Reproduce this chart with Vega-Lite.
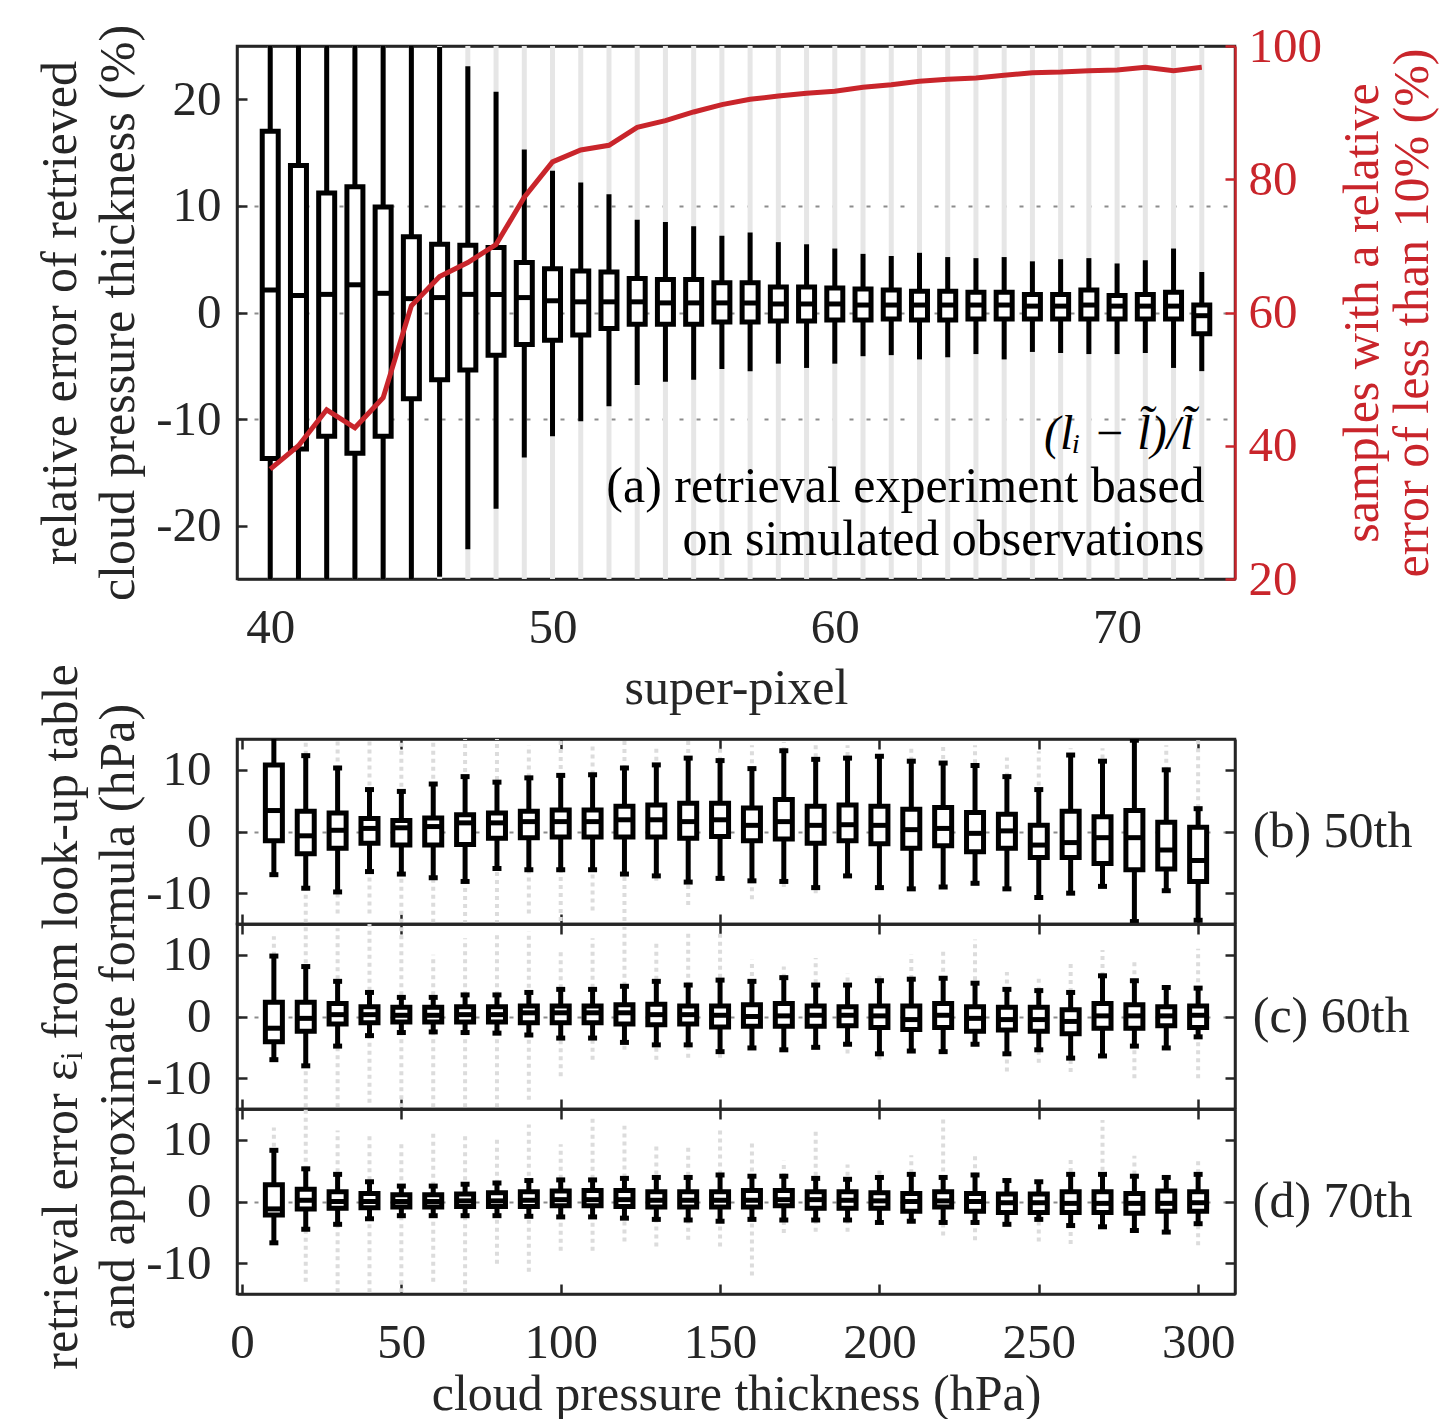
{
  "$schema": "https://vega.github.io/schema/vega-lite/v6.json",
  "padding": {"left": 34, "top": 20, "right": 5, "bottom": 0},
  "background": "white",
  "config": {
    "font": "Liberation Serif",
    "view": {"stroke": "#262626", "strokeWidth": 2.5},
    "axis": {
      "labelFont": "Liberation Serif", "titleFont": "Liberation Serif",
      "labelFontSize": 49, "titleFontSize": 50, "titleFontWeight": "normal",
      "labelColor": "#262626", "titleColor": "#262626",
      "domainColor": "#262626", "domainWidth": 2.5,
      "tickColor": "#262626", "tickWidth": 2.5, "tickSize": -10,
      "grid": false, "labelFlush": false, "labelOverlap": false,
      "labelExpr": "replace(datum.label, '−', '-')"
    }
  },
  "datasets": {
    "top": [
      {"sp":40,"lo":-30,"q1":-13.7,"med":2.1,"q3":17.0,"hi":30,"gmin":-30,"gmax":30,"pct":36.5},
      {"sp":41,"lo":-30,"q1":-12.8,"med":1.6,"q3":13.8,"hi":30,"gmin":-30,"gmax":30,"pct":40.0},
      {"sp":42,"lo":-30,"q1":-11.6,"med":1.7,"q3":11.2,"hi":30,"gmin":-30,"gmax":30,"pct":45.4},
      {"sp":43,"lo":-30,"q1":-13.2,"med":2.6,"q3":11.8,"hi":30,"gmin":-30,"gmax":30,"pct":42.7},
      {"sp":44,"lo":-30,"q1":-11.6,"med":1.8,"q3":9.9,"hi":30,"gmin":-30,"gmax":30,"pct":47.2},
      {"sp":45,"lo":-30,"q1":-8.1,"med":1.3,"q3":7.1,"hi":30,"gmin":-30,"gmax":30,"pct":61.0},
      {"sp":46,"lo":-24.8,"q1":-6.3,"med":1.4,"q3":6.4,"hi":24.9,"gmin":-30,"gmax":30,"pct":65.4},
      {"sp":47,"lo":-22.2,"q1":-5.4,"med":1.7,"q3":6.3,"hi":23.1,"gmin":-30,"gmax":30,"pct":67.5},
      {"sp":48,"lo":-18.4,"q1":-4.0,"med":1.7,"q3":6.1,"hi":20.7,"gmin":-30,"gmax":30,"pct":70.2},
      {"sp":49,"lo":-13.6,"q1":-3.0,"med":1.4,"q3":4.7,"hi":15.3,"gmin":-30,"gmax":30,"pct":77.3},
      {"sp":50,"lo":-11.6,"q1":-2.6,"med":1.1,"q3":4.1,"hi":13.3,"gmin":-30,"gmax":30,"pct":82.6},
      {"sp":51,"lo":-10.2,"q1":-2.1,"med":1.0,"q3":3.9,"hi":12.2,"gmin":-30,"gmax":30,"pct":84.4},
      {"sp":52,"lo":-8.8,"q1":-1.5,"med":1.0,"q3":3.8,"hi":11.1,"gmin":-30,"gmax":30,"pct":85.1},
      {"sp":53,"lo":-6.8,"q1":-1.1,"med":1.0,"q3":3.2,"hi":8.7,"gmin":-30,"gmax":30,"pct":87.8},
      {"sp":54,"lo":-6.5,"q1":-1.1,"med":0.9,"q3":3.1,"hi":8.5,"gmin":-30,"gmax":30,"pct":88.8},
      {"sp":55,"lo":-6.3,"q1":-1.1,"med":0.9,"q3":3.1,"hi":8.1,"gmin":-30,"gmax":30,"pct":90.1},
      {"sp":56,"lo":-5.3,"q1":-0.9,"med":0.9,"q3":2.8,"hi":7.2,"gmin":-30,"gmax":30,"pct":91.2},
      {"sp":57,"lo":-5.5,"q1":-0.9,"med":0.9,"q3":2.8,"hi":7.5,"gmin":-30,"gmax":30,"pct":92.0},
      {"sp":58,"lo":-4.8,"q1":-0.8,"med":0.8,"q3":2.4,"hi":6.6,"gmin":-30,"gmax":30,"pct":92.5},
      {"sp":59,"lo":-5.2,"q1":-0.8,"med":0.8,"q3":2.4,"hi":6.4,"gmin":-30,"gmax":30,"pct":92.9},
      {"sp":60,"lo":-4.8,"q1":-0.7,"med":0.8,"q3":2.3,"hi":6.0,"gmin":-30,"gmax":30,"pct":93.2},
      {"sp":61,"lo":-4.1,"q1":-0.7,"med":0.7,"q3":2.2,"hi":5.5,"gmin":-30,"gmax":30,"pct":93.8},
      {"sp":62,"lo":-4.0,"q1":-0.6,"med":0.7,"q3":2.1,"hi":5.3,"gmin":-30,"gmax":30,"pct":94.2},
      {"sp":63,"lo":-4.4,"q1":-0.7,"med":0.7,"q3":2.0,"hi":5.6,"gmin":-30,"gmax":30,"pct":94.7},
      {"sp":64,"lo":-4.2,"q1":-0.7,"med":0.7,"q3":2.0,"hi":5.2,"gmin":-30,"gmax":30,"pct":95.0},
      {"sp":65,"lo":-3.9,"q1":-0.6,"med":0.7,"q3":1.9,"hi":5.1,"gmin":-30,"gmax":30,"pct":95.2},
      {"sp":66,"lo":-4.4,"q1":-0.6,"med":0.7,"q3":1.9,"hi":5.2,"gmin":-30,"gmax":30,"pct":95.6},
      {"sp":67,"lo":-3.7,"q1":-0.6,"med":0.6,"q3":1.7,"hi":4.8,"gmin":-30,"gmax":30,"pct":96.0},
      {"sp":68,"lo":-3.8,"q1":-0.6,"med":0.6,"q3":1.7,"hi":5.0,"gmin":-30,"gmax":30,"pct":96.1},
      {"sp":69,"lo":-3.9,"q1":-0.6,"med":0.7,"q3":2.1,"hi":5.1,"gmin":-30,"gmax":30,"pct":96.3},
      {"sp":70,"lo":-3.9,"q1":-0.6,"med":0.6,"q3":1.6,"hi":4.6,"gmin":-30,"gmax":30,"pct":96.4},
      {"sp":71,"lo":-3.8,"q1":-0.6,"med":0.6,"q3":1.7,"hi":4.9,"gmin":-30,"gmax":30,"pct":96.8},
      {"sp":72,"lo":-5.2,"q1":-0.6,"med":0.6,"q3":1.9,"hi":6.0,"gmin":-30,"gmax":30,"pct":96.3},
      {"sp":73,"lo":-5.5,"q1":-2.0,"med":-0.3,"q3":0.7,"hi":3.8,"gmin":-30,"gmax":30,"pct":96.8}
    ],
    "ann": [
      {"tx":73.1,"ty":-16.4,"t":"(a) retrieval experiment based"},
      {"tx":73.1,"ty":-21.3,"t":"on simulated observations"}
    ],
    "math": [
      {"tx":72.7,"ty":-11.5,"t":"(lᵢ − l̃)/l̃"}
    ],
    "bot": [
      {"p":"b","x":10,"lo":-7.0,"q1":-1.5,"med":3.4,"q3":10.8,"hi":20,"gmin":-7,"gmax":20},
      {"p":"b","x":20,"lo":-9.2,"q1":-3.6,"med":-0.7,"q3":3.3,"hi":12.3,"gmin":-20,"gmax":20},
      {"p":"b","x":30,"lo":-9.8,"q1":-2.7,"med":0.2,"q3":3.0,"hi":10.3,"gmin":-13.3,"gmax":20},
      {"p":"b","x":40,"lo":-6.5,"q1":-1.9,"med":0.5,"q3":2.1,"hi":6.8,"gmin":-13.3,"gmax":20},
      {"p":"b","x":50,"lo":-6.9,"q1":-2.2,"med":0.6,"q3":1.8,"hi":6.5,"gmin":-20,"gmax":20},
      {"p":"b","x":60,"lo":-7.5,"q1":-2.2,"med":0.8,"q3":2.2,"hi":7.7,"gmin":-20,"gmax":20},
      {"p":"b","x":70,"lo":-8.1,"q1":-2.1,"med":1.4,"q3":2.7,"hi":8.9,"gmin":-15,"gmax":20},
      {"p":"b","x":80,"lo":-6.0,"q1":-1.1,"med":1.4,"q3":3.0,"hi":8.0,"gmin":-15,"gmax":20},
      {"p":"b","x":90,"lo":-6.2,"q1":-1.0,"med":1.6,"q3":3.3,"hi":8.7,"gmin":-13.3,"gmax":14},
      {"p":"b","x":100,"lo":-6.2,"q1":-0.9,"med":1.6,"q3":3.5,"hi":9.1,"gmin":-14.5,"gmax":20},
      {"p":"b","x":110,"lo":-6.2,"q1":-0.9,"med":1.6,"q3":3.5,"hi":9.2,"gmin":-12.8,"gmax":14},
      {"p":"b","x":120,"lo":-6.9,"q1":-0.9,"med":1.9,"q3":4.1,"hi":10.3,"gmin":-14.5,"gmax":20},
      {"p":"b","x":130,"lo":-7.2,"q1":-0.9,"med":1.9,"q3":4.3,"hi":10.8,"gmin":-8,"gmax":14},
      {"p":"b","x":140,"lo":-8.2,"q1":-1.1,"med":1.6,"q3":4.6,"hi":11.9,"gmin":-11.9,"gmax":15},
      {"p":"b","x":150,"lo":-7.6,"q1":-0.8,"med":1.9,"q3":4.6,"hi":11.5,"gmin":-8,"gmax":14},
      {"p":"b","x":160,"lo":-8.0,"q1":-1.5,"med":1.0,"q3":3.8,"hi":10.2,"gmin":-11,"gmax":14},
      {"p":"b","x":170,"lo":-8.1,"q1":-1.2,"med":1.6,"q3":5.2,"hi":13.1,"gmin":-9,"gmax":14.5},
      {"p":"b","x":180,"lo":-9.1,"q1":-1.9,"med":1.0,"q3":4.1,"hi":11.7,"gmin":-10,"gmax":14},
      {"p":"b","x":190,"lo":-7.2,"q1":-1.5,"med":1.1,"q3":4.3,"hi":11.9,"gmin":-7.2,"gmax":14},
      {"p":"b","x":200,"lo":-9.1,"q1":-2.0,"med":1.0,"q3":4.1,"hi":12.2,"gmin":-9.1,"gmax":12.2},
      {"p":"b","x":210,"lo":-9.3,"q1":-2.7,"med":0.3,"q3":3.6,"hi":11.4,"gmin":-9.3,"gmax":14},
      {"p":"b","x":220,"lo":-9.0,"q1":-2.3,"med":0.5,"q3":3.9,"hi":11.1,"gmin":-9,"gmax":14},
      {"p":"b","x":230,"lo":-8.4,"q1":-3.3,"med":-0.3,"q3":3.1,"hi":10.7,"gmin":-8.4,"gmax":14},
      {"p":"b","x":240,"lo":-9.3,"q1":-2.7,"med":0.1,"q3":2.8,"hi":8.9,"gmin":-9.3,"gmax":12},
      {"p":"b","x":250,"lo":-10.7,"q1":-4.2,"med":-2.2,"q3":1.0,"hi":6.8,"gmin":-10.7,"gmax":13},
      {"p":"b","x":260,"lo":-10.0,"q1":-4.2,"med":-1.8,"q3":3.3,"hi":12.4,"gmin":-10,"gmax":13.5},
      {"p":"b","x":270,"lo":-8.9,"q1":-5.2,"med":-1.0,"q3":2.4,"hi":11.4,"gmin":-8.9,"gmax":13.5},
      {"p":"b","x":280,"lo":-14.6,"q1":-6.2,"med":-1.0,"q3":3.4,"hi":14.8,"gmin":-14.6,"gmax":14.8},
      {"p":"b","x":290,"lo":-9.6,"q1":-6.1,"med":-3.0,"q3":1.5,"hi":10.0,"gmin":-9.6,"gmax":14},
      {"p":"b","x":300,"lo":-14.4,"q1":-8.1,"med":-4.7,"q3":0.7,"hi":3.7,"gmin":-14.4,"gmax":15},
      {"p":"c","x":10,"lo":-7.0,"q1":-4.1,"med":-1.9,"q3":2.3,"hi":9.8,"gmin":-7,"gmax":13},
      {"p":"c","x":20,"lo":-8.0,"q1":-2.4,"med":-0.3,"q3":2.3,"hi":8.1,"gmin":-16,"gmax":16},
      {"p":"c","x":30,"lo":-4.8,"q1":-1.2,"med":0.3,"q3":2.1,"hi":5.7,"gmin":-16,"gmax":14.3},
      {"p":"c","x":40,"lo":-3.1,"q1":-1.0,"med":0.3,"q3":1.6,"hi":3.9,"gmin":-14,"gmax":16},
      {"p":"c","x":50,"lo":-2.6,"q1":-0.9,"med":0.2,"q3":1.5,"hi":3.1,"gmin":-16,"gmax":16},
      {"p":"c","x":60,"lo":-2.5,"q1":-0.9,"med":0.2,"q3":1.5,"hi":3.1,"gmin":-16,"gmax":10},
      {"p":"c","x":70,"lo":-2.6,"q1":-0.9,"med":0.3,"q3":1.6,"hi":3.5,"gmin":-16,"gmax":12.7},
      {"p":"c","x":80,"lo":-2.7,"q1":-0.9,"med":0.3,"q3":1.6,"hi":3.5,"gmin":-16,"gmax":13.2},
      {"p":"c","x":90,"lo":-3.0,"q1":-1.0,"med":0.6,"q3":1.7,"hi":3.9,"gmin":-13.5,"gmax":13.8},
      {"p":"c","x":100,"lo":-3.5,"q1":-1.0,"med":0.6,"q3":1.7,"hi":4.4,"gmin":-9.7,"gmax":11},
      {"p":"c","x":110,"lo":-3.5,"q1":-1.0,"med":0.6,"q3":1.7,"hi":4.4,"gmin":-7,"gmax":12.7},
      {"p":"c","x":120,"lo":-4.2,"q1":-1.2,"med":0.6,"q3":1.9,"hi":4.9,"gmin":-5.4,"gmax":14.5},
      {"p":"c","x":130,"lo":-4.6,"q1":-1.35,"med":0.3,"q3":2.0,"hi":5.7,"gmin":-7,"gmax":12.4},
      {"p":"c","x":140,"lo":-4.6,"q1":-1.2,"med":0.3,"q3":1.7,"hi":5.1,"gmin":-6.7,"gmax":13.5},
      {"p":"c","x":150,"lo":-5.7,"q1":-1.7,"med":0.2,"q3":1.7,"hi":5.9,"gmin":-6.7,"gmax":13.8},
      {"p":"c","x":160,"lo":-5.1,"q1":-1.6,"med":0.0,"q3":1.9,"hi":5.7,"gmin":-5.1,"gmax":9.2},
      {"p":"c","x":170,"lo":-5.4,"q1":-1.6,"med":0.1,"q3":2.1,"hi":6.3,"gmin":-5.4,"gmax":8.1},
      {"p":"c","x":180,"lo":-5.0,"q1":-1.6,"med":0.2,"q3":1.7,"hi":5.1,"gmin":-5.0,"gmax":9.5},
      {"p":"c","x":190,"lo":-4.5,"q1":-1.5,"med":0.2,"q3":1.6,"hi":5.1,"gmin":-6,"gmax":7},
      {"p":"c","x":200,"lo":-6.05,"q1":-1.8,"med":0.1,"q3":1.7,"hi":5.8,"gmin":-7,"gmax":7},
      {"p":"c","x":210,"lo":-5.6,"q1":-2.1,"med":-0.5,"q3":1.7,"hi":6.05,"gmin":-5.6,"gmax":10},
      {"p":"c","x":220,"lo":-5.7,"q1":-1.8,"med":0.2,"q3":2.1,"hi":6.2,"gmin":-5.7,"gmax":11},
      {"p":"c","x":230,"lo":-4.5,"q1":-2.4,"med":-0.3,"q3":1.6,"hi":5.4,"gmin":-4.5,"gmax":12.5},
      {"p":"c","x":240,"lo":-6.05,"q1":-2.2,"med":-0.5,"q3":1.5,"hi":4.4,"gmin":-8.9,"gmax":7.2},
      {"p":"c","x":250,"lo":-5.4,"q1":-2.4,"med":-0.5,"q3":1.5,"hi":4.2,"gmin":-7.5,"gmax":6.2},
      {"p":"c","x":260,"lo":-6.75,"q1":-2.8,"med":-0.8,"q3":1.1,"hi":3.9,"gmin":-9,"gmax":8.8},
      {"p":"c","x":270,"lo":-6.4,"q1":-1.9,"med":0.1,"q3":2.1,"hi":6.6,"gmin":-6.4,"gmax":10.8},
      {"p":"c","x":280,"lo":-4.8,"q1":-1.9,"med":0.1,"q3":1.9,"hi":5.8,"gmin":-10,"gmax":9.2},
      {"p":"c","x":290,"lo":-5.1,"q1":-1.5,"med":0.1,"q3":1.6,"hi":4.7,"gmin":-5.1,"gmax":4.7},
      {"p":"c","x":300,"lo":-3.3,"q1":-1.8,"med":0.2,"q3":1.7,"hi":4.6,"gmin":-10,"gmax":11},
      {"p":"d","x":10,"lo":-6.7,"q1":-2.2,"med":-1.2,"q3":2.7,"hi":8.3,"gmin":-6.7,"gmax":12},
      {"p":"d","x":20,"lo":-4.5,"q1":-1.2,"med":0.2,"q3":2.0,"hi":5.3,"gmin":-13,"gmax":15},
      {"p":"d","x":30,"lo":-3.7,"q1":-1.1,"med":0.0,"q3":1.6,"hi":4.4,"gmin":-14.7,"gmax":11.5},
      {"p":"d","x":40,"lo":-2.8,"q1":-1.0,"med":0.0,"q3":1.3,"hi":3.2,"gmin":-14.7,"gmax":10.9},
      {"p":"d","x":50,"lo":-2.3,"q1":-0.9,"med":0.0,"q3":1.1,"hi":2.5,"gmin":-14.7,"gmax":9.6},
      {"p":"d","x":60,"lo":-2.3,"q1":-0.9,"med":0.0,"q3":1.1,"hi":2.5,"gmin":-13,"gmax":11.2},
      {"p":"d","x":70,"lo":-2.3,"q1":-0.8,"med":0.1,"q3":1.2,"hi":2.8,"gmin":-14.7,"gmax":11.2},
      {"p":"d","x":80,"lo":-2.3,"q1":-0.8,"med":0.1,"q3":1.4,"hi":3.0,"gmin":-10.1,"gmax":10.4},
      {"p":"d","x":90,"lo":-2.4,"q1":-0.8,"med":0.2,"q3":1.6,"hi":3.4,"gmin":-11.4,"gmax":12.5},
      {"p":"d","x":100,"lo":-2.5,"q1":-0.7,"med":0.3,"q3":1.7,"hi":3.5,"gmin":-8,"gmax":9.3},
      {"p":"d","x":110,"lo":-2.5,"q1":-0.7,"med":0.3,"q3":1.8,"hi":3.5,"gmin":-8,"gmax":13.9},
      {"p":"d","x":120,"lo":-2.7,"q1":-0.8,"med":0.3,"q3":1.8,"hi":3.75,"gmin":-6.5,"gmax":12.3},
      {"p":"d","x":130,"lo":-2.9,"q1":-0.9,"med":0.2,"q3":1.6,"hi":3.9,"gmin":-7.3,"gmax":9},
      {"p":"d","x":140,"lo":-3.0,"q1":-0.9,"med":0.2,"q3":1.6,"hi":3.9,"gmin":-6.2,"gmax":8.7},
      {"p":"d","x":150,"lo":-3.2,"q1":-0.9,"med":0.2,"q3":1.6,"hi":4.3,"gmin":-7.3,"gmax":11.8},
      {"p":"d","x":160,"lo":-2.9,"q1":-0.9,"med":0.2,"q3":1.8,"hi":4.1,"gmin":-12,"gmax":10},
      {"p":"d","x":170,"lo":-3.0,"q1":-0.7,"med":0.3,"q3":1.8,"hi":4.1,"gmin":-5.1,"gmax":6.6},
      {"p":"d","x":180,"lo":-3.0,"q1":-1.1,"med":0.3,"q3":1.6,"hi":3.75,"gmin":-4.9,"gmax":11.7},
      {"p":"d","x":190,"lo":-3.0,"q1":-1.1,"med":0.2,"q3":1.6,"hi":3.6,"gmin":-4.9,"gmax":6},
      {"p":"d","x":200,"lo":-3.4,"q1":-1.1,"med":0.1,"q3":1.4,"hi":3.9,"gmin":-3.4,"gmax":5.5},
      {"p":"d","x":210,"lo":-3.2,"q1":-1.6,"med":0.0,"q3":1.3,"hi":4.4,"gmin":-3.2,"gmax":7.5},
      {"p":"d","x":220,"lo":-3.4,"q1":-0.9,"med":0.1,"q3":1.6,"hi":3.9,"gmin":-5.5,"gmax":13.5},
      {"p":"d","x":230,"lo":-3.4,"q1":-1.6,"med":0.0,"q3":1.3,"hi":4.3,"gmin":-6.3,"gmax":8},
      {"p":"d","x":240,"lo":-3.7,"q1":-1.8,"med":-0.2,"q3":1.2,"hi":3.4,"gmin":-3.7,"gmax":3.4},
      {"p":"d","x":250,"lo":-2.9,"q1":-1.8,"med":-0.2,"q3":1.2,"hi":3.2,"gmin":-6.5,"gmax":3.2},
      {"p":"d","x":260,"lo":-3.9,"q1":-1.8,"med":-0.3,"q3":1.6,"hi":4.4,"gmin":-6.9,"gmax":7.1},
      {"p":"d","x":270,"lo":-4.1,"q1":-1.8,"med":-0.3,"q3":1.6,"hi":4.4,"gmin":-4.1,"gmax":13.2},
      {"p":"d","x":280,"lo":-4.7,"q1":-1.9,"med":-0.3,"q3":1.3,"hi":4.1,"gmin":-4.7,"gmax":7.4},
      {"p":"d","x":290,"lo":-4.96,"q1":-1.6,"med":-0.3,"q3":1.7,"hi":3.9,"gmin":-4.96,"gmax":3.9},
      {"p":"d","x":300,"lo":-3.6,"q1":-1.6,"med":-0.2,"q3":1.6,"hi":4.4,"gmin":-7.1,"gmax":7.1}
    ]
  },
  "vconcat": [
    {
      "width": 998, "height": 533,
      "layer": [
        {
          "data": {"name": "top"},
          "mark": {"type": "rule", "color": "#e6e6e6", "strokeWidth": 5, "clip": true},
          "encoding": {
            "x": {"field": "sp", "type": "quantitative", "scale": {"domain": [39, 74], "nice": false, "zero": false},
                  "axis": {"orient": "bottom", "values": [40, 50, 60, 70], "title": "super-pixel", "labelPadding": 34, "titlePadding": 11}},
            "y": {"field": "gmin", "type": "quantitative", "scale": {"domain": [-25, 25], "nice": false, "zero": false},
                  "axis": {"orient": "left", "values": [-20, -10, 0, 10, 20], "labelPadding": 26,
                           "title": ["relative error of retrieved", "cloud pressure thickness (%)"], "titleLineHeight": 58, "titlePadding": 12,
                           "grid": true, "gridDash": [4, 13], "gridWidth": 2,
                           "gridColor": {"condition": {"test": "abs(datum.value) > 15", "value": "transparent"}, "value": "#8c8c8c"}}},
            "y2": {"field": "gmax"}
          }
        },
        {
          "data": {"name": "top"},
          "mark": {"type": "rule", "color": "black", "strokeWidth": 5, "clip": true},
          "encoding": {
            "x": {"field": "sp", "type": "quantitative", "axis": {"orient": "top", "values": [40, 50, 60, 70], "labels": false, "title": null}},
            "y": {"field": "lo", "type": "quantitative", "scale": {"domain": [-25, 25], "nice": false, "zero": false}, "axis": null},
            "y2": {"field": "hi"}
          }
        },
        {
          "data": {"name": "top"},
          "mark": {"type": "bar", "width": 16, "fill": "white", "stroke": "black", "strokeWidth": 5, "clip": true},
          "encoding": {
            "x": {"field": "sp", "type": "quantitative", "axis": null},
            "y": {"field": "q1", "type": "quantitative", "scale": {"domain": [-25, 25], "nice": false, "zero": false}, "axis": null},
            "y2": {"field": "q3"}
          }
        },
        {
          "data": {"name": "top"},
          "mark": {"type": "tick", "orient": "horizontal", "size": 16, "thickness": 5, "color": "black", "opacity": 1},
          "encoding": {
            "x": {"field": "sp", "type": "quantitative", "axis": null},
            "y": {"field": "med", "type": "quantitative", "scale": {"domain": [-25, 25], "nice": false, "zero": false}, "axis": null}
          }
        },
        {
          "data": {"name": "ann"},
          "mark": {"type": "text", "align": "right", "baseline": "middle", "fontSize": 50, "font": "Liberation Serif", "color": "black"},
          "encoding": {
            "x": {"field": "tx", "type": "quantitative", "axis": null},
            "y": {"field": "ty", "type": "quantitative", "scale": {"domain": [-25, 25], "nice": false, "zero": false}, "axis": null},
            "text": {"field": "t"}
          }
        },
        {
          "data": {"name": "math"},
          "mark": {"type": "text", "align": "right", "baseline": "middle", "fontSize": 48, "font": "Liberation Serif", "fontStyle": "italic", "color": "black"},
          "encoding": {
            "x": {"field": "tx", "type": "quantitative", "axis": null},
            "y": {"field": "ty", "type": "quantitative", "scale": {"domain": [-25, 25], "nice": false, "zero": false}, "axis": null},
            "text": {"field": "t"}
          }
        },
        {
          "data": {"name": "top"},
          "mark": {"type": "line", "color": "#c9252b", "strokeWidth": 5},
          "encoding": {
            "x": {"field": "sp", "type": "quantitative", "axis": null},
            "y": {"field": "pct", "type": "quantitative", "scale": {"domain": [20, 100], "nice": false, "zero": false},
                  "axis": {"orient": "right", "values": [20, 40, 60, 80, 100], "labelPadding": 23,
                           "labelColor": "#c9252b", "tickColor": "#c9252b", "domainColor": "#c9252b", "titleColor": "#c9252b",
                           "title": ["samples with a relative", "error of less than 10% (%)"], "titleAngle": 270, "titleBaseline": "top",
                           "titleLineHeight": 50, "titlePadding": -34}}
          }
        }
      ],
      "resolve": {"scale": {"y": "independent"}, "axis": {"y": "independent"}}
    },
    {
      "bounds": "flush",
      "spacing": 0,
      "vconcat": [
        {
          "width": 998, "height": 185,
          "data": {"name": "bot"},
          "transform": [{"filter": "datum.p == 'b'"}],
          "layer": [
            {"mark": {"type": "rule", "color": "#dcdcdc", "strokeWidth": 4, "strokeDash": [4, 4], "clip": true},
             "encoding": {
               "x": {"field": "x", "type": "quantitative", "scale": {"domain": [0, 310], "nice": false, "zero": false},
                     "axis": {"orient": "bottom", "values": [0, 50, 100, 150, 200, 250, 300], "labels": false, "title": null}},
               "y": {"field": "gmin", "type": "quantitative", "scale": {"domain": [-15, 15], "nice": false, "zero": false},
                     "axis": {"orient": "left", "values": [-10, 0, 10], "labelPadding": 36, "title": null,
                              "grid": true, "gridDash": [4, 13], "gridWidth": 2,
                              "gridColor": {"condition": {"test": "datum.value != 0", "value": "transparent"}, "value": "#8c8c8c"}}},
               "y2": {"field": "gmax"}}},
            {"mark": {"type": "rule", "color": "black", "strokeWidth": 5, "clip": true},
             "encoding": {
               "x": {"field": "x", "type": "quantitative", "axis": {"orient": "top", "values": [0, 50, 100, 150, 200, 250, 300], "labels": false, "title": null}},
               "y": {"field": "lo", "type": "quantitative", "axis": {"orient": "right", "values": [-10, 0, 10], "labels": false, "title": "(b) 50th", "titleAngle": 0, "titleAlign": "left", "titleBaseline": "middle", "titlePadding": 16}},
               "y2": {"field": "hi"}}},
            {"mark": {"type": "bar", "width": 17, "fill": "white", "stroke": "black", "strokeWidth": 5, "clip": true},
             "encoding": {"x": {"field": "x", "type": "quantitative", "axis": null}, "y": {"field": "q1", "type": "quantitative", "axis": null}, "y2": {"field": "q3"}}},
            {"mark": {"type": "tick", "orient": "horizontal", "size": 17, "thickness": 5, "color": "black", "opacity": 1},
             "encoding": {"x": {"field": "x", "type": "quantitative", "axis": null}, "y": {"field": "med", "type": "quantitative", "axis": null}}},
            {"mark": {"type": "tick", "orient": "horizontal", "size": 9, "thickness": 5, "color": "black", "opacity": 1, "clip": true},
             "encoding": {"x": {"field": "x", "type": "quantitative", "axis": null}, "y": {"field": "lo", "type": "quantitative", "axis": null}}},
            {"mark": {"type": "tick", "orient": "horizontal", "size": 9, "thickness": 5, "color": "black", "opacity": 1, "clip": true},
             "encoding": {"x": {"field": "x", "type": "quantitative", "axis": null}, "y": {"field": "hi", "type": "quantitative", "axis": null}}}
          ]
        },
        {
          "width": 998, "height": 185,
          "data": {"name": "bot"},
          "transform": [{"filter": "datum.p == 'c'"}],
          "layer": [
            {"mark": {"type": "rule", "color": "#dcdcdc", "strokeWidth": 4, "strokeDash": [4, 4], "clip": true},
             "encoding": {
               "x": {"field": "x", "type": "quantitative", "scale": {"domain": [0, 310], "nice": false, "zero": false},
                     "axis": {"orient": "bottom", "values": [0, 50, 100, 150, 200, 250, 300], "labels": false, "title": null}},
               "y": {"field": "gmin", "type": "quantitative", "scale": {"domain": [-15, 15], "nice": false, "zero": false},
                     "axis": {"orient": "left", "values": [-10, 0, 10], "labelPadding": 36,
                              "title": ["retrieval error εᵢ from look-up table", "and approximate formula (hPa)"], "titleLineHeight": 57, "titlePadding": 2,
                              "grid": true, "gridDash": [4, 13], "gridWidth": 2,
                              "gridColor": {"condition": {"test": "datum.value != 0", "value": "transparent"}, "value": "#8c8c8c"}}},
               "y2": {"field": "gmax"}}},
            {"mark": {"type": "rule", "color": "black", "strokeWidth": 5, "clip": true},
             "encoding": {
               "x": {"field": "x", "type": "quantitative", "axis": {"orient": "top", "values": [0, 50, 100, 150, 200, 250, 300], "labels": false, "title": null}},
               "y": {"field": "lo", "type": "quantitative", "axis": {"orient": "right", "values": [-10, 0, 10], "labels": false, "title": "(c) 60th", "titleAngle": 0, "titleAlign": "left", "titleBaseline": "middle", "titlePadding": 16}},
               "y2": {"field": "hi"}}},
            {"mark": {"type": "bar", "width": 17, "fill": "white", "stroke": "black", "strokeWidth": 5, "clip": true},
             "encoding": {"x": {"field": "x", "type": "quantitative", "axis": null}, "y": {"field": "q1", "type": "quantitative", "axis": null}, "y2": {"field": "q3"}}},
            {"mark": {"type": "tick", "orient": "horizontal", "size": 17, "thickness": 5, "color": "black", "opacity": 1},
             "encoding": {"x": {"field": "x", "type": "quantitative", "axis": null}, "y": {"field": "med", "type": "quantitative", "axis": null}}},
            {"mark": {"type": "tick", "orient": "horizontal", "size": 9, "thickness": 5, "color": "black", "opacity": 1, "clip": true},
             "encoding": {"x": {"field": "x", "type": "quantitative", "axis": null}, "y": {"field": "lo", "type": "quantitative", "axis": null}}},
            {"mark": {"type": "tick", "orient": "horizontal", "size": 9, "thickness": 5, "color": "black", "opacity": 1, "clip": true},
             "encoding": {"x": {"field": "x", "type": "quantitative", "axis": null}, "y": {"field": "hi", "type": "quantitative", "axis": null}}}
          ]
        },
        {
          "width": 998, "height": 185,
          "data": {"name": "bot"},
          "transform": [{"filter": "datum.p == 'd'"}],
          "layer": [
            {"mark": {"type": "rule", "color": "#dcdcdc", "strokeWidth": 4, "strokeDash": [4, 4], "clip": true},
             "encoding": {
               "x": {"field": "x", "type": "quantitative", "scale": {"domain": [0, 310], "nice": false, "zero": false},
                     "axis": {"orient": "bottom", "values": [0, 50, 100, 150, 200, 250, 300], "labelPadding": 34, "title": "cloud pressure thickness (hPa)", "titlePadding": 2}},
               "y": {"field": "gmin", "type": "quantitative", "scale": {"domain": [-15, 15], "nice": false, "zero": false},
                     "axis": {"orient": "left", "values": [-10, 0, 10], "labelPadding": 36, "title": null,
                              "grid": true, "gridDash": [4, 13], "gridWidth": 2,
                              "gridColor": {"condition": {"test": "datum.value != 0", "value": "transparent"}, "value": "#8c8c8c"}}},
               "y2": {"field": "gmax"}}},
            {"mark": {"type": "rule", "color": "black", "strokeWidth": 5, "clip": true},
             "encoding": {
               "x": {"field": "x", "type": "quantitative", "axis": {"orient": "top", "values": [0, 50, 100, 150, 200, 250, 300], "labels": false, "title": null}},
               "y": {"field": "lo", "type": "quantitative", "axis": {"orient": "right", "values": [-10, 0, 10], "labels": false, "title": "(d) 70th", "titleAngle": 0, "titleAlign": "left", "titleBaseline": "middle", "titlePadding": 16}},
               "y2": {"field": "hi"}}},
            {"mark": {"type": "bar", "width": 17, "fill": "white", "stroke": "black", "strokeWidth": 5, "clip": true},
             "encoding": {"x": {"field": "x", "type": "quantitative", "axis": null}, "y": {"field": "q1", "type": "quantitative", "axis": null}, "y2": {"field": "q3"}}},
            {"mark": {"type": "tick", "orient": "horizontal", "size": 17, "thickness": 5, "color": "black", "opacity": 1},
             "encoding": {"x": {"field": "x", "type": "quantitative", "axis": null}, "y": {"field": "med", "type": "quantitative", "axis": null}}},
            {"mark": {"type": "tick", "orient": "horizontal", "size": 9, "thickness": 5, "color": "black", "opacity": 1, "clip": true},
             "encoding": {"x": {"field": "x", "type": "quantitative", "axis": null}, "y": {"field": "lo", "type": "quantitative", "axis": null}}},
            {"mark": {"type": "tick", "orient": "horizontal", "size": 9, "thickness": 5, "color": "black", "opacity": 1, "clip": true},
             "encoding": {"x": {"field": "x", "type": "quantitative", "axis": null}, "y": {"field": "hi", "type": "quantitative", "axis": null}}}
          ]
        }
      ]
    }
  ],
  "spacing": 160,
  "bounds": "flush"
}
